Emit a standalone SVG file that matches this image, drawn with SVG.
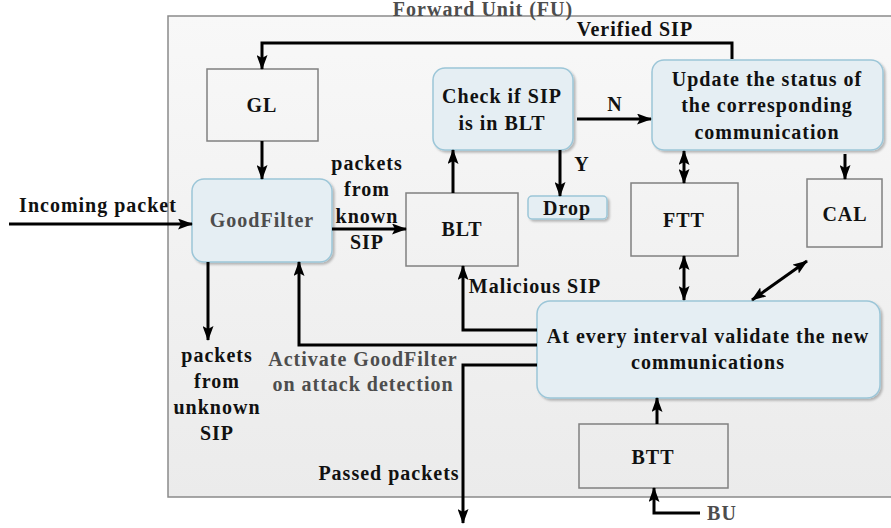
<svg xmlns="http://www.w3.org/2000/svg" width="891" height="528" viewBox="0 0 891 528">
  <defs>
    <linearGradient id="fuBg" x1="0" y1="0" x2="0" y2="1">
      <stop offset="0" stop-color="#f8f8f8"/>
      <stop offset="1" stop-color="#ebebeb"/>
    </linearGradient>
    <marker id="arrow" viewBox="0 0 15 11" refX="14" refY="5.5" markerWidth="15" markerHeight="11" markerUnits="userSpaceOnUse" orient="auto-start-reverse">
      <path d="M0,0 L15,5.5 L0,11 L3,5.5 Z" fill="#000"/>
    </marker>
    <filter id="shadow" x="-10%" y="-10%" width="125%" height="130%">
      <feDropShadow dx="2" dy="2" stdDeviation="1.2" flood-color="#000" flood-opacity="0.25"/>
    </filter>
  </defs>
  <style>
    text { font-family: "Liberation Serif", "Times New Roman", serif; font-weight: bold; font-size: 20px; fill: #111; text-anchor: middle; letter-spacing: 1px; }
    .gray { fill: #4d4d4d; }
    .box { fill: none; stroke: #808080; stroke-width: 1.5; }
    .rbox { fill: #e5eef3; stroke: #9cc6d8; stroke-width: 1.5; filter: url(#shadow); }
    .wire { fill: none; stroke: #000; stroke-width: 3; }
    .arr { marker-end: url(#arrow); }
    .dbl { marker-start: url(#arrow); marker-end: url(#arrow); }
  </style>

  <!-- Forward Unit container -->
  <g id="forward-unit">
    <rect x="168" y="16" width="740" height="481" fill="url(#fuBg)" stroke="#8a8a8a" stroke-width="1.5"/>
    <text x="483" y="16" class="gray" font-weight="normal" font-size="16">Forward Unit (FU)</text>
  </g>

  <g id="GL">
    <rect class="box" x="207" y="69" width="111" height="72"/>
    <text x="262" y="112">GL</text>
  </g>

  <g id="GoodFilter">
    <rect class="rbox" x="192" y="179" width="140" height="83" rx="12"/>
    <text x="262" y="227" class="gray">GoodFilter</text>
  </g>

  <g id="BLT">
    <rect class="box" x="406" y="193" width="112" height="73"/>
    <text x="462" y="236">BLT</text>
  </g>

  <g id="CheckBLT">
    <rect class="rbox" x="433" y="68" width="140" height="82" rx="12"/>
    <text x="502" y="103">Check if SIP</text>
    <text x="502" y="130">is in BLT</text>
  </g>

  <g id="Drop">
    <rect class="rbox" x="528" y="196" width="79" height="23" rx="4"/>
    <text x="567" y="215">Drop</text>
  </g>

  <g id="UpdateStatus">
    <rect class="rbox" x="652" y="60" width="231" height="90" rx="12"/>
    <text x="767" y="86">Update the status of</text>
    <text x="767" y="112">the corresponding</text>
    <text x="767" y="139">communication</text>
  </g>

  <g id="FTT">
    <rect class="box" x="631" y="183" width="107" height="73"/>
    <text x="684" y="227">FTT</text>
  </g>

  <g id="CAL">
    <rect class="box" x="807" y="179" width="75" height="68"/>
    <text x="845" y="221">CAL</text>
  </g>

  <g id="Validate">
    <rect class="rbox" x="537" y="301" width="343" height="97" rx="13"/>
    <text x="708" y="343">At every interval validate the new</text>
    <text x="708" y="369">communications</text>
  </g>

  <g id="BTT">
    <rect class="box" x="579" y="424" width="149" height="64"/>
    <text x="653" y="464">BTT</text>
  </g>

  <!-- connectors -->
  <g id="connectors">
    <polyline class="wire arr" points="732,59 732,43 262,43 262,69"/>
    <line class="wire arr" x1="262" y1="141" x2="262" y2="179"/>
    <line class="wire arr" x1="9" y1="224" x2="192" y2="224"/>
    <line class="wire arr" x1="332" y1="229" x2="406" y2="229"/>
    <line class="wire arr" x1="208" y1="262" x2="208" y2="340"/>
    <line class="wire arr" x1="453" y1="193" x2="453" y2="150"/>
    <line class="wire arr" x1="577" y1="119" x2="651" y2="119"/>
    <line class="wire arr" x1="560" y1="150" x2="560" y2="196"/>
    <line class="wire dbl" x1="684" y1="151" x2="684" y2="183"/>
    <line class="wire dbl" x1="684" y1="256" x2="684" y2="300"/>
    <line class="wire arr" x1="845" y1="154" x2="845" y2="179"/>
    <line class="wire dbl" x1="807" y1="261" x2="752" y2="300"/>
    <polyline class="wire arr" points="537,330 463,330 463,266"/>
    <polyline class="wire arr" points="537,345 299,345 299,262"/>
    <polyline class="wire arr" points="537,365 463,365 463,523"/>
    <line class="wire arr" x1="657" y1="424" x2="657" y2="398"/>
    <polyline class="wire arr" points="700,513 654,513 654,488"/>

    <text x="635" y="36">Verified SIP</text>
    <text x="615" y="111">N</text>
    <text x="582" y="171">Y</text>
    <text x="98" y="212">Incoming packet</text>
    <text x="367" y="170">packets</text>
    <text x="367" y="196">from</text>
    <text x="367" y="223">known</text>
    <text x="367" y="249">SIP</text>
    <text x="217" y="362">packets</text>
    <text x="217" y="388">from</text>
    <text x="217" y="414">unknown</text>
    <text x="217" y="440">SIP</text>
    <text x="535" y="293">Malicious SIP</text>
    <text x="363" y="366" class="gray">Activate GoodFilter</text>
    <text x="363" y="391" class="gray">on attack detection</text>
    <text x="389" y="480">Passed packets</text>
    <text x="722" y="520" class="gray" font-weight="normal">BU</text>
  </g>
</svg>
